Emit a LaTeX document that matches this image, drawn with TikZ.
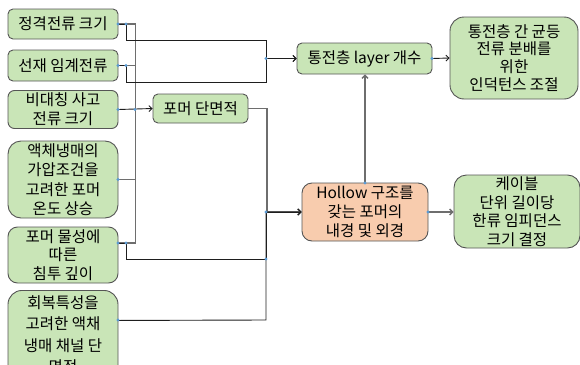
\documentclass[tikz,border=0pt]{standalone}
\usepackage{fontspec}
\setmainfont{Noto Sans CJK KR}
\usetikzlibrary{arrows.meta}
\definecolor{gfill}{HTML}{C9E5B7}
\definecolor{ofill}{HTML}{F8CCAE}
\definecolor{bord}{HTML}{555555}
\definecolor{dotc}{HTML}{5B9BD5}
\definecolor{ln}{HTML}{1E1E1E}
\definecolor{lg}{HTML}{6E6E6E}
\begin{document}
\begin{tikzpicture}[x=1pt,y=-1pt,
  box/.style={draw=bord, line width=0.9pt, fill=gfill, align=center, inner sep=0pt, text=black},
  fs/.style={font=\fontsize{15.5}{#1}\selectfont},
  lk/.style={draw=ln, line width=0.9pt},
  gl/.style={draw=lg, line width=1.3pt},
  arr/.style={-{Straight Barb[length=3pt,width=6pt]}},
  jd/.style={fill=dotc}
]
\useasboundingbox (0,0) rectangle (580,364);

% left column
\node[box, fs=19, minimum width=110, minimum height=30, rounded corners=5] (A) at (63,24) {정격전류 크기};
\node[box, fs=19, minimum width=110, minimum height=31, rounded corners=5] (B) at (63,65.5) {선재 임계전류};
\node[box, fs=19, minimum width=110, minimum height=38, rounded corners=6.5] (C) at (63,109.5) {비대칭 사고\\전류 크기};
\node[box, fs=19.5, minimum width=110, minimum height=77, rounded corners=13] (D) at (63,179.5) {액체냉매의\\가압조건을\\고려한 포머\\온도 상승};
\node[box, fs=18.5, minimum width=110, minimum height=56, rounded corners=9.5] (E) at (63,255) {포머 물성에\\따른\\침투 깊이};
\node[box, fs=21.5, minimum width=110, minimum height=96, rounded corners=14, anchor=north] (F) at (63,290) {};
\node[fs=21.5, align=center, inner sep=0pt, anchor=north, text=black] (Ft) at (63,295) {회복특성을\\고려한 액채\\냉매 채널 단\\면적};

% middle
\node[box, fs=19, minimum width=95, minimum height=29, rounded corners=5] (P) at (200.5,108.5) {포머 단면적};
\node[box, fs=19, minimum width=135, minimum height=31, rounded corners=5] (L) at (364.5,58.5) {통전층 layer 개수};
\node[box, fs=19, fill=ofill, minimum width=126, minimum height=58, rounded corners=10] (H) at (365,212) {Hollow 구조를\\갖는 포머의\\내경 및 외경};

% right
\node[box, fs=17.8, minimum width=128, minimum height=82, rounded corners=14] (R1) at (514,58) {통전층 간 균등\\전류 분배를\\위한\\인덕턴스 조절};
\node[box, fs=18.5, minimum width=126, minimum height=73, rounded corners=12.5] (R2) at (517,211.5) {케이블\\단위 길이당\\한류 임피던스\\크기 결정};

% gray bus at x=135
\draw[gl] (A.east) -- ++(17,0) |- ([yshift=12pt]E.east);
\draw[gl] (B.east) -- ++(17,0);
\draw[gl] (D.east) -- ++(17,0);
% A,B -> layer
\draw[lk,arr] (A.east) -- ++(8,0) |- (266,40) |- (L.west);
\draw[lk,arr] (B.east) -- ++(8,0) |- (266,82) |- (L.west);
% C -> P
\draw[lk,arr] (C.east) -- (P.west);
% P, E, F -> Hollow
\draw[gl,arr] (P.east) -- ++(18.5,0) |- (H.west);
\draw[lk,arr] ([yshift=12pt]E.east) -- ++(8,0) |- (266,259) |- (H.west);
\draw[lk,arr] ([yshift=18pt]F.east) -- (266,320) |- (H.west);
% Hollow -> layer, layer -> R1, Hollow -> R2
\draw[gl,arr] (H.north) -- (H.north |- L.south);
\draw[lk,arr] (L.east) -- (R1.west);
\draw[gl,arr] (H.east) -- (H.east -| R2.west);

% connection dots
\foreach \p in {(118,24),(126,24),(118,65.5),(126,65.5),(118,109.5),(135,109.5),(118,179.5),(118,243),(126,243),(266,58.5),(266,212),(266,259),(118,320),(432,58.5),(365,183),(428,212)}
  \fill[jd] \p circle (1.6);
\end{tikzpicture}
\end{document}
